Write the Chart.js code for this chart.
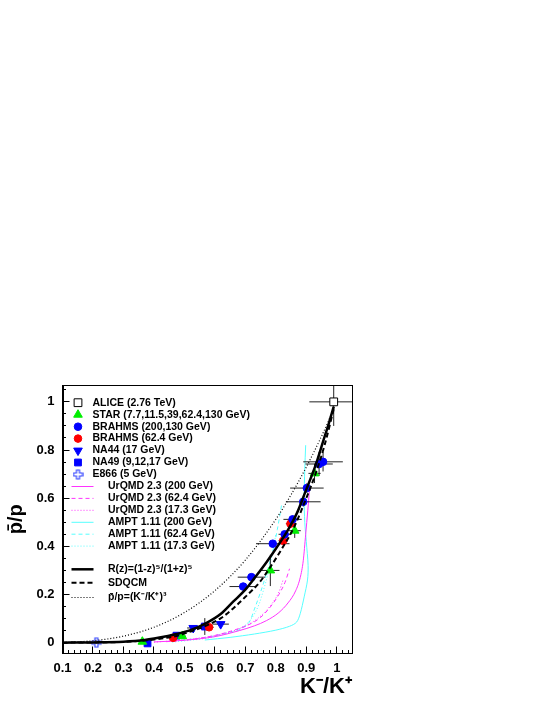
<!DOCTYPE html>
<html>
<head>
<meta charset="utf-8">
<title>pbar/p vs K-/K+</title>
<script src="https://cdn.jsdelivr.net/npm/chart.js@4"></script>
<style>
  html, body { margin: 0; padding: 0; background: #fff; }
  #wrap { width: 545px; height: 705px; }
</style>
</head>
<body>
<div id="wrap"><canvas id="chart" width="545" height="705"></canvas></div>
<script>
const aliceX = [0.99];
const aliceY = [1.0];
const aliceEx = [0.08];
const aliceEy = [0.1];

const starX = [0.362, 0.493, 0.782, 0.862, 0.927];
const starY = [0.004, 0.027, 0.30, 0.465, 0.703];
const starEx = [0.01, 0.012, 0.03, 0.02, 0.02];
const starEy = [0.004, 0.008, 0.065, 0.03, 0.04];

const brahmsX = [0.693, 0.72, 0.79, 0.829, 0.855, 0.89, 0.902, 0.942, 0.955];
const brahmsY = [0.233, 0.272, 0.411, 0.45, 0.512, 0.585, 0.642, 0.742, 0.751];
const brahmsEx = [0.045, 0.045, 0.055, 0.02, 0.03, 0.057, 0.055, 0.045, 0.065];
const brahmsEy = [0.01, 0.012, 0.015, 0.012, 0.015, 0.02, 0.02, 0.05, 0.04];

const brahms62X = [0.463, 0.581, 0.824, 0.848];
const brahms62Y = [0.02, 0.064, 0.423, 0.494];
const brahms62Ex = [0.01, 0.015, 0.015, 0.015];
const brahms62Ey = [0.005, 0.01, 0.01, 0.012];

const na44X = [0.529, 0.619];
const na44Y = [0.061, 0.077];
const na44Ex = [0.02, 0.027];
const na44Ey = [0.005, 0.006];

const na49X = [0.379, 0.474, 0.567];
const na49Y = [-0.003, 0.029, 0.067];
const na49Ex = [0.01, 0.01, 0.012];
const na49Ey = [0.003, 0.005, 0.035];

const e866X = [0.211];
const e866Y = [0.0];
const e866Ex = [0.015];
const e866Ey = [0.003];

// ---- model curves as [x, y] ----
const rzCurve = [[0.1, 0.0], [0.2, 0.001], [0.3, 0.004], [0.37, 0.011], [0.414, 0.02], [0.474, 0.036],
  [0.52, 0.052], [0.567, 0.078], [0.62, 0.12], [0.66, 0.17], [0.7, 0.22], [0.73, 0.268], [0.77, 0.335],
  [0.8, 0.39], [0.84, 0.468], [0.87, 0.54], [0.895, 0.62], [0.93, 0.735], [0.955, 0.835], [0.975, 0.915], [0.99, 0.98]];
const sdqcmCurve = [[0.1, 0.0], [0.3, 0.003], [0.4, 0.013], [0.474, 0.028], [0.52, 0.046], [0.567, 0.068],
  [0.62, 0.102], [0.66, 0.142], [0.7, 0.19], [0.747, 0.251], [0.78, 0.31], [0.82, 0.39], [0.86, 0.48],
  [0.9, 0.6], [0.93, 0.7], [0.96, 0.82], [0.99, 0.97]];
const cubeCurve = [[0.1, 0.001], [0.2, 0.008], [0.3, 0.027], [0.4, 0.064], [0.5, 0.125], [0.6, 0.216],
  [0.7, 0.343], [0.8, 0.512], [0.85, 0.614], [0.9, 0.729], [0.95, 0.857], [0.99, 0.97]];

const urqmd200 = [[0.4, 0.003], [0.5, 0.01], [0.6, 0.025], [0.68, 0.05], [0.73, 0.07], [0.77, 0.092],
  [0.81, 0.125], [0.84, 0.165], [0.865, 0.215], [0.88, 0.27], [0.89, 0.34], [0.898, 0.45], [0.905, 0.55], [0.91, 0.63]];
const urqmd62 = [[0.44, 0.004], [0.52, 0.013], [0.6, 0.03], [0.67, 0.055], [0.72, 0.08], [0.75, 0.105],
  [0.78, 0.145], [0.81, 0.2], [0.83, 0.25], [0.845, 0.307]];
const urqmd17 = [[0.4, 0.002], [0.5, 0.012], [0.6, 0.03], [0.68, 0.058], [0.74, 0.1], [0.78, 0.15],
  [0.81, 0.21], [0.825, 0.265]];
const ampt200 = [[0.567, 0.011], [0.65, 0.022], [0.73, 0.036], [0.8, 0.052], [0.845, 0.068], [0.868, 0.085],
  [0.88, 0.12], [0.893, 0.19], [0.904, 0.26], [0.906, 0.32], [0.9, 0.42], [0.895, 0.5], [0.893, 0.6],
  [0.895, 0.72], [0.898, 0.82]];
const ampt62 = [[0.49, 0.01], [0.57, 0.022], [0.64, 0.04], [0.69, 0.06], [0.715, 0.09], [0.73, 0.14],
  [0.75, 0.21], [0.77, 0.29], [0.79, 0.38], [0.805, 0.47], [0.82, 0.58]];
const ampt17 = [[0.46, 0.002], [0.52, 0.01], [0.58, 0.02], [0.64, 0.04], [0.69, 0.065], [0.72, 0.1],
  [0.745, 0.16], [0.76, 0.22], [0.775, 0.29], [0.79, 0.38], [0.8, 0.45]];

const legendLabels = ['ALICE (2.76 TeV)', 'STAR (7.7,11.5,39,62.4,130 GeV)', 'BRAHMS (200,130 GeV)',
  'BRAHMS (62.4 GeV)', 'NA44 (17 GeV)', 'NA49 (9,12,17 GeV)', 'E866 (5 GeV)',
  'UrQMD 2.3 (200 GeV)', 'UrQMD 2.3 (62.4 GeV)', 'UrQMD 2.3 (17.3 GeV)',
  'AMPT 1.11 (200 GeV)', 'AMPT 1.11 (62.4 GeV)', 'AMPT 1.11 (17.3 GeV)',
  'R(z)=(1-z)\u2075/(1+z)\u2075', 'SDQCM', 'p\u0304/p=(K\u207B/K\u207A)\u00B3'];

const FONT = "'Liberation Sans', Helvetica, Arial, sans-serif";
const MAGENTA = '#ff33ff';
const CYAN = '#55ffff';

// open cross marker for E866
function openCross(color) {
  const c = document.createElement('canvas');
  c.width = 11; c.height = 11;
  const g = c.getContext('2d');
  g.strokeStyle = color;
  g.lineWidth = 1.2;
  g.beginPath();
  g.moveTo(4, 1); g.lineTo(7, 1); g.lineTo(7, 4); g.lineTo(10, 4); g.lineTo(10, 7); g.lineTo(7, 7);
  g.lineTo(7, 10); g.lineTo(4, 10); g.lineTo(4, 7); g.lineTo(1, 7); g.lineTo(1, 4); g.lineTo(4, 4);
  g.closePath();
  g.stroke();
  return c;
}

function pts(xs, ys) {
  return xs.map((x, i) => ({ x: x, y: ys[i] }));
}

function curve(list) {
  return list.map(p => ({ x: p[0], y: p[1] }));
}

// error bars as broken line segments
function bars(xs, ys, exs, eys) {
  const out = [];
  xs.forEach((x, i) => {
    out.push({ x: x - exs[i], y: ys[i] }, { x: x + exs[i], y: ys[i] }, { x: x, y: null });
    out.push({ x: x, y: ys[i] - eys[i] }, { x: x, y: ys[i] + eys[i] }, { x: x, y: null });
  });
  return out;
}

function markerSet(label, row, xs, ys, style, fill, border, radius, rotation) {
  return {
    label: label, legendRow: row, data: pts(xs, ys), showLine: false,
    pointStyle: style, pointRadius: radius, pointRotation: rotation || 0,
    backgroundColor: fill, borderColor: border, pointBorderWidth: 1, borderWidth: 1, order: 2
  };
}

function barSet(xs, ys, exs, eys, color) {
  return {
    data: bars(xs, ys, exs, eys), showLine: true, spanGaps: false, pointRadius: 0,
    borderColor: color, borderWidth: 1, order: 3
  };
}

function lineSet(label, row, list, color, width, dash, smooth, order) {
  const ds = {
    label: label, legendRow: row, data: curve(list), showLine: true, pointRadius: 0,
    borderColor: color, backgroundColor: color, borderWidth: width, borderDash: dash, order: order
  };
  if (smooth === 'mono') ds.cubicInterpolationMode = 'monotone';
  else ds.tension = 0.3;
  return ds;
}

const datasets = [
  markerSet(legendLabels[0], 0, aliceX, aliceY, 'rect', '#ffffff', '#000000', 5.5),
  markerSet(legendLabels[1], 1, starX, starY, 'triangle', '#00ee00', '#00ee00', 5),
  markerSet(legendLabels[2], 2, brahmsX, brahmsY, 'circle', '#0000ff', '#0000ff', 3.8),
  markerSet(legendLabels[3], 3, brahms62X, brahms62Y, 'circle', '#ff0000', '#ff0000', 3.8),
  markerSet(legendLabels[4], 4, na44X, na44Y, 'triangle', '#0000ff', '#0000ff', 5, 180),
  markerSet(legendLabels[5], 5, na49X, na49Y, 'rect', '#0000ff', '#0000ff', 4.8),
  markerSet(legendLabels[6], 6, e866X, e866Y, openCross('#3344ff'), '#3344ff', '#3344ff', 5),
  barSet(aliceX, aliceY, aliceEx, aliceEy, '#222222'),
  barSet(starX, starY, starEx, starEy, '#222222'),
  barSet(brahmsX, brahmsY, brahmsEx, brahmsEy, '#222222'),
  barSet(brahms62X, brahms62Y, brahms62Ex, brahms62Ey, '#222222'),
  barSet(na44X, na44Y, na44Ex, na44Ey, '#222222'),
  barSet(na49X, na49Y, na49Ex, na49Ey, '#222222'),
  barSet(e866X, e866Y, e866Ex, e866Ey, '#3344ff'),
  lineSet(legendLabels[7], 7, urqmd200, MAGENTA, 1, [], 'mono', 4),
  lineSet(legendLabels[8], 8, urqmd62, MAGENTA, 1, [4, 3], 'mono', 4),
  lineSet(legendLabels[9], 9, urqmd17, MAGENTA, 1, [1, 2], 'mono', 4),
  lineSet(legendLabels[10], 10, ampt200, CYAN, 1, [], 'bez', 4),
  lineSet(legendLabels[11], 11, ampt62, CYAN, 1, [4, 3], 'mono', 4),
  lineSet(legendLabels[12], 12, ampt17, CYAN, 1, [1, 2], 'mono', 4),
  lineSet(legendLabels[13], 13, rzCurve, '#000000', 2.5, [], 'mono', 1),
  lineSet(legendLabels[14], 14, sdqcmCurve, '#000000', 2, [5, 3], 'mono', 1),
  lineSet(legendLabels[15], 15, cubeCurve, '#000000', 1.2, [1, 2], 'mono', 1)
];

// label only at multiples of 0.1
function fmt(v) {
  const r = Math.round(v * 10) / 10;
  return Math.abs(v - r) < 1e-6 ? String(r) : '';
}

const tickFont = { family: FONT, size: 13, weight: 'bold' };

// frame around the plot (ROOT style box)
const framePlugin = {
  id: 'frame',
  afterDatasetsDraw(chart) {
    const a = chart.chartArea;
    const ctx = chart.ctx;
    ctx.save();
    ctx.strokeStyle = '#000';
    ctx.lineWidth = 1;
    ctx.strokeRect(Math.round(a.left) + 0.5, Math.round(a.top) + 0.5,
      Math.round(a.right - a.left) - 1, Math.round(a.bottom - a.top) - 1);
    ctx.restore();
  }
};

// legend inside the frame, top left
const rowOffsets = [17.7, 29.7, 41.7, 53.6, 65.6, 77.5, 89.5, 101.5, 113.4, 125.3, 137.3, 149.2, 161.1, 184.3, 197.7, 212.5];
const legendPlugin = {
  id: 'insideLegend',
  afterDatasetsDraw(chart) {
    const a = chart.chartArea;
    const ctx = chart.ctx;
    ctx.save();
    ctx.font = 'bold 10.5px ' + FONT;
    ctx.textBaseline = 'middle';
    chart.data.datasets.forEach(ds => {
      if (ds.legendRow === undefined) return;
      const y = a.top + rowOffsets[ds.legendRow];
      if (ds.showLine) {
        ctx.save();
        ctx.strokeStyle = ds.borderColor;
        ctx.lineWidth = ds.borderWidth;
        ctx.setLineDash(ds.borderDash || []);
        ctx.beginPath();
        ctx.moveTo(a.left + 9, y);
        ctx.lineTo(a.left + 31, y);
        ctx.stroke();
        ctx.restore();
        ctx.fillStyle = '#000';
        ctx.fillText(ds.label, a.left + 45.5, y);
      } else {
        ctx.save();
        ctx.fillStyle = ds.backgroundColor;
        ctx.strokeStyle = ds.borderColor;
        ctx.lineWidth = 1;
        Chart.helpers.drawPoint(ctx, {
          pointStyle: ds.pointStyle, rotation: ds.pointRotation, radius: ds.pointRadius, borderWidth: 1
        }, a.left + 15.5, y);
        ctx.restore();
        ctx.fillStyle = '#000';
        ctx.fillText(ds.label, a.left + 30, y);
      }
    });
    ctx.restore();
  }
};

new Chart(document.getElementById('chart'), {
  type: 'scatter',
  data: { datasets: datasets },
  options: {
    responsive: false,
    animation: false,
    events: [],
    layout: { padding: { top: 385, right: 193, left: 0, bottom: 0 } },
    plugins: { legend: { display: false }, tooltip: { enabled: false } },
    scales: {
      x: {
        type: 'linear', position: 'bottom', min: 0.1, max: 1.05, weight: 1,
        ticks: { stepSize: 0.1, includeBounds: false, autoSkip: false, maxRotation: 0, padding: 14,
          color: '#000', font: tickFont, callback: fmt },
        grid: { drawOnChartArea: false, drawTicks: true, tickLength: -7, tickColor: '#000', tickWidth: 1 },
        border: { display: true, color: '#000', width: 1 },
        title: { display: true, text: 'K\u207B/K\u207A', align: 'end', color: '#000',
          font: { family: FONT, size: 22, weight: 'bold' }, padding: { top: 0, bottom: 5 } },
        afterFit(scale) { scale.height = 51.5; }
      },
      x2: {
        type: 'linear', position: 'bottom', min: 0.1, max: 1.05, weight: 0,
        ticks: { display: false, stepSize: 0.02, includeBounds: false },
        grid: { drawOnChartArea: false, drawTicks: true, tickLength: -3.5, tickColor: '#000', tickWidth: 1 },
        border: { display: false },
        afterFit(scale) { scale.height = 0; }
      },
      y: {
        type: 'linear', position: 'left', min: -0.045, max: 1.07, weight: 1,
        ticks: { stepSize: 0.2, includeBounds: false, autoSkip: false, padding: 15,
          color: '#000', font: tickFont, callback: fmt },
        grid: { drawOnChartArea: false, drawTicks: true, tickLength: -7, tickColor: '#000', tickWidth: 1 },
        border: { display: true, color: '#000', width: 1 },
        title: { display: true, text: 'p\u0304/p', align: 'center', color: '#000',
          font: { family: FONT, size: 20, weight: 'bold' }, padding: { top: 4, bottom: 0 } },
        afterFit(scale) { scale.width = 62.5; }
      },
      y2: {
        type: 'linear', position: 'left', min: -0.045, max: 1.07, weight: 0,
        ticks: { display: false, stepSize: 0.05, includeBounds: false },
        grid: { drawOnChartArea: false, drawTicks: true, tickLength: -3.5, tickColor: '#000', tickWidth: 1 },
        border: { display: false },
        afterFit(scale) { scale.width = 0; }
      }
    }
  },
  plugins: [framePlugin, legendPlugin]
});
</script>
</body>
</html>
